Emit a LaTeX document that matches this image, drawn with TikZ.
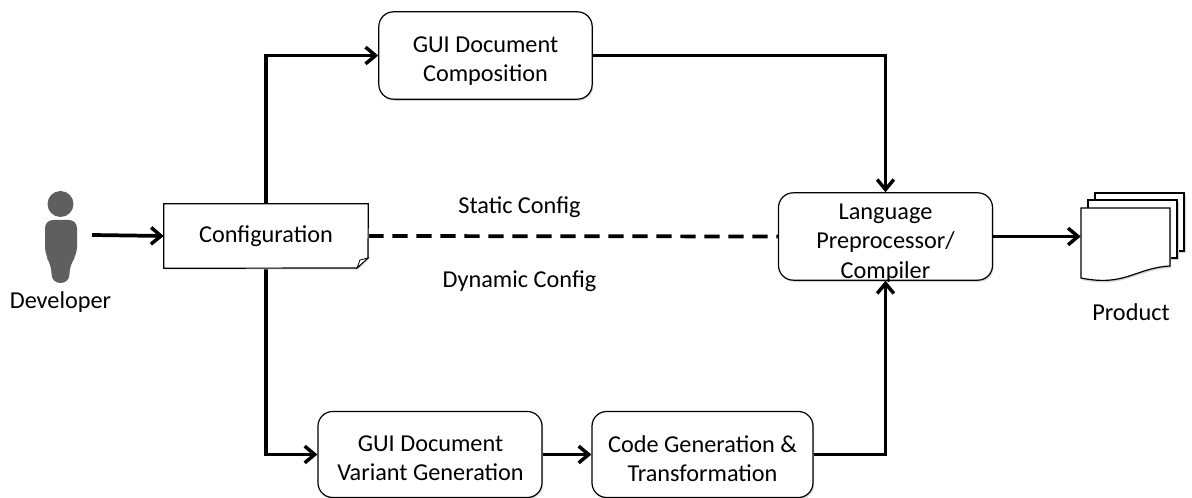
\documentclass[tikz,border=0pt]{standalone}
\usepackage{fontspec}
\setmainfont{Carlito}
\usetikzlibrary{arrows.meta,calc}
\definecolor{persongray}{HTML}{5F5F5F}
\definecolor{shadowgray}{HTML}{D4D4D4}
\tikzset{
  x=0.75pt,y=-0.75pt,
  lbl/.style={font=\fontsize{18.2}{22}\selectfont,text=black,align=center,inner sep=0pt},
  rbox/.style={draw=black,line width=0.9pt,rounded corners=11pt,fill=white,inner sep=0pt,
     preaction={draw=none,fill=shadowgray,transform canvas={xshift=0.8pt,yshift=-1.2pt}}},
  notebox/.style={draw=none,fill=none,inner sep=0pt},
  flow/.style={line width=2.8pt,draw=black,-{Straight Barb[length=7.5pt,width=12.5pt,line width=2.6pt]}},
  flowplain/.style={line width=2.8pt,draw=black},
  page/.style={draw=black,line width=0.9pt,fill=white},
  pageshadow/.style={fill=shadowgray,draw=none},
}
\begin{document}
\begin{tikzpicture}
\useasboundingbox (0,0) rectangle (1192,498);
\fill[white] (0,0) rectangle (1192,498);

\node[notebox,minimum width=153pt,minimum height=48pt] (config) at (266,236) {};
\node[rbox,minimum width=160pt,minimum height=65.5pt] (comp) at (485.5,55.5) {};
\node[rbox,minimum width=160.5pt,minimum height=65.5pt] (lang) at (885.5,236.5) {};
\node[rbox,minimum width=168pt,minimum height=64.5pt] (variant) at (430,454.5) {};
\node[rbox,minimum width=165.75pt,minimum height=64.5pt] (codegen) at (702.5,454.5) {};
\node[notebox,minimum width=66.75pt,minimum height=52.5pt] (prod) at (1125.5,243) {};
\coordinate (devout) at (92,235);

\draw[flow] (config.north) |- (comp.west);
\draw[flow] (comp.east) -| (lang.north);
\draw[flow] (config.south) |- (variant.west);
\draw[flow] (variant.east) -- (codegen.west);
\draw[flow] (codegen.east) -| (lang.south);
\draw[flowplain,dash pattern=on 11.5pt off 6.5pt] (config.east) -- (lang.west);
\draw[flow] (devout) -- (config.west);
\draw[flow] (lang.east) -- (lang.east -| prod.west);

% configuration note
\fill[shadowgray] (165,206) -- (369,206) -- (369,259) -- (358,269.5) -- (165,269.5) -- cycle;
\draw[page] (config.north west) -- (config.north east) -- (368,258) -- (357,268) -- (config.south west) -- cycle;
\draw[draw=black,line width=0.6pt,fill=white] (368,258) -- (360,260) -- (357,268) -- cycle;

% box texts
\node[lbl] (configtext) at (266,236) {Configuration};
\node[lbl] (comptext) at (485.5,61) {GUI Document\\Composition};
\node[lbl] (langtext) at (885.5,243) {Language\\Preprocessor/\\Compiler};
\node[lbl] (varianttext) at (430.5,458.5) {GUI Document\\Variant Generation};
\node[lbl] (codetext) at (702.5,458.5) {Code Generation \&\\Transformation};

% person
\fill[persongray] (60.5,204) circle (13);
\fill[persongray,rounded corners=6pt] (45,220) -- (77,220) -- (77,255) -- (70,264) -- (69,283) -- (52,283) -- (51,264) -- (45,255) -- cycle;
\node[lbl] (devlabel) at (60.5,302) {Developer};

% product pages
\fill[pageshadow] (1097,195) rectangle (1186,253);
\draw[page] (1095,193) rectangle (1184,251);
\fill[pageshadow] (1090,202) rectangle (1179,260);
\draw[page] (1088,200) rectangle (1177,258);
\fill[pageshadow] (1082,210) -- (1171,210) -- (1171,268) .. controls (1135,270) and (1125,289) .. (1082,280) -- cycle;
\draw[page] (1081,208) -- (1170,208) -- (1170,266) .. controls (1135,268) and (1125,287) .. (1081,278) -- cycle;
\node[lbl] (prodlabel) at (1131,312.5) {Product};

% labels
\node[lbl] (static) at (519.5,207.5) {Static Config};
\node[lbl] (dynamic) at (519.5,281) {Dynamic Config};
\end{tikzpicture}
\end{document}
